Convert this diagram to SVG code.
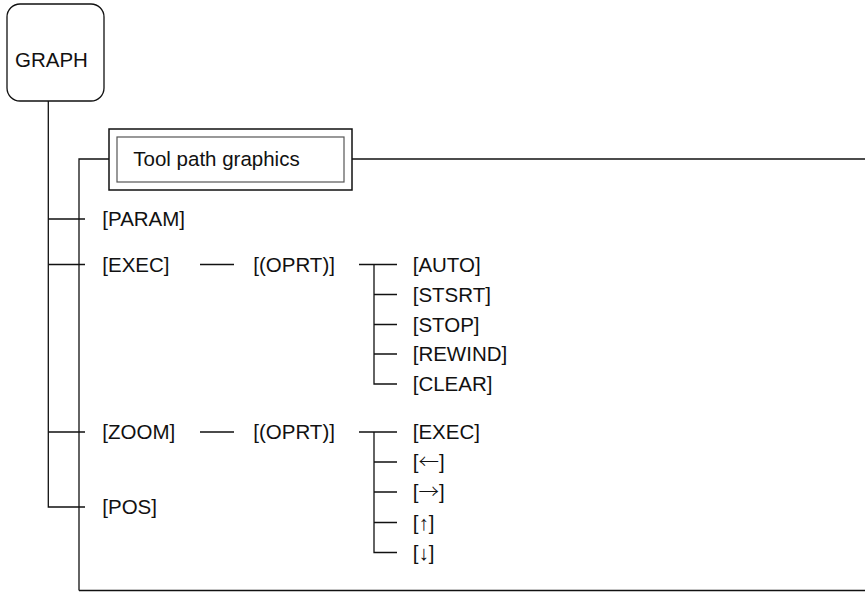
<svg xmlns="http://www.w3.org/2000/svg" width="865" height="592" viewBox="0 0 865 592">
<style>
.t{font-family:"Liberation Sans",Arial,sans-serif;font-size:20.5px;fill:#111}
.a{font-family:"Noto Sans CJK JP","Liberation Sans",sans-serif;font-weight:300}
.l{stroke:#111;stroke-width:1.3;fill:none}
</style>
<rect width="865" height="592" fill="#fff"/>
<g id="connectors" class="l">
<path d="M48.3 101V507H85"/>
<path d="M79 590.5V159H109"/>
<path d="M352 159H865"/>
<path d="M79 590.5H865"/>
<path d="M48.3 219H85M48.3 264.5H85M48.3 432H85"/>
<path d="M200 264.5H234M200 432H234"/>
<path d="M359 264.5H397M374 264.5V384H397M374 294.5H397M374 324.5H397M374 354H397"/>
<path d="M359 432H397M374 432V552.5H397M374 462H397M374 492H397M374 522.5H397"/>
</g>
<g id="graph">
<rect x="7" y="4" width="97" height="97" rx="13" class="l"/>
<text x="15" y="66.7" class="t">GRAPH</text>
</g>
<g id="toolpath">
<rect x="109" y="129" width="243" height="61" fill="none" stroke="#111" stroke-width="1.5"/>
<rect x="117" y="137" width="227" height="45" fill="none" stroke="#555" stroke-width="1.2"/>
<text x="133.3" y="165.5" class="t">Tool path graphics</text>
</g>
<g id="param"><text x="102.3" y="226" class="t">[PARAM]</text></g>
<g id="exec"><text x="102.3" y="271.5" class="t">[EXEC]</text></g>
<g id="exec-oprt"><text x="253.3" y="271.5" class="t">[(OPRT)]</text></g>
<g id="auto"><text x="412.7" y="271.5" class="t">[AUTO]</text></g>
<g id="stsrt"><text x="412.7" y="301.5" class="t">[STSRT]</text></g>
<g id="stop"><text x="412.7" y="331.5" class="t">[STOP]</text></g>
<g id="rewind"><text x="412.7" y="361" class="t">[REWIND]</text></g>
<g id="clear"><text x="412.7" y="391" class="t">[CLEAR]</text></g>
<g id="zoom"><text x="102.3" y="439" class="t">[ZOOM]</text></g>
<g id="zoom-oprt"><text x="253.3" y="439" class="t">[(OPRT)]</text></g>
<g id="zexec"><text x="412.7" y="439" class="t">[EXEC]</text></g>
<g id="left"><text x="412.7" y="469" class="t">[<tspan class="a">←</tspan>]</text></g>
<g id="right"><text x="412.7" y="499" class="t">[<tspan class="a">→</tspan>]</text></g>
<g id="up"><text x="412.7" y="529.5" class="t">[↑]</text></g>
<g id="down"><text x="412.7" y="559.5" class="t">[↓]</text></g>
<g id="pos"><text x="102.3" y="514" class="t">[POS]</text></g>
</svg>
